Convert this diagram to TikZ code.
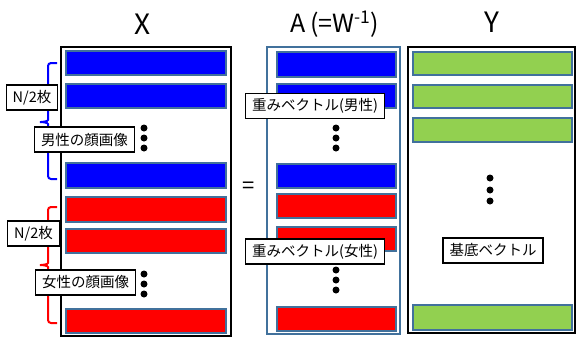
\documentclass[tikz,border=0pt]{standalone}
\usepackage{fontspec}
\setmainfont{Noto Sans CJK JP}
\definecolor{barline}{RGB}{65,113,156}
\definecolor{barblue}{RGB}{0,0,255}
\definecolor{barred}{RGB}{255,0,0}
\definecolor{bargreen}{RGB}{146,208,80}
\begin{document}
\begin{tikzpicture}[x=1pt,y=-1pt,
    bar/.style={draw=barline, line width=2pt},
    lbl/.style={draw, line width=1.2pt, fill=white, minimum height=25pt, inner xsep=6.5pt, inner ysep=0pt, font=\fontsize{14.5}{16}\selectfont},
    title/.style={font=\fontsize{28}{30}\selectfont},
    vdot/.style={fill, circle, minimum size=7pt, inner sep=0pt},
    curly/.style={line width=2pt, rounded corners=3pt}]
    \useasboundingbox (0,0) rectangle (576,338);

    % titles
    \node[title] (tX) at (143,24) {X};
    \node[font=\fontsize{25}{27}\selectfont] (tA) at (335,24) {A\,(=W\textsuperscript{-1})};
    \node[title] (tY) at (492,22) {Y};
    \node[font=\fontsize{22}{24}\selectfont] (eq) at (248.5,188) {=};

    % X
    \draw[line width=2pt] (61,47) rectangle (231,336);
    \draw[bar, fill=barblue] (66,51) rectangle (226,75);
    \draw[bar, fill=barblue] (66,84) rectangle (226,108);
    \draw[bar, fill=barblue] (66,163) rectangle (226,188);
    \draw[bar, fill=barred] (66,197) rectangle (226,222);
    \draw[bar, fill=barred] (66,229) rectangle (226,253);
    \draw[bar, fill=barred] (66,309) rectangle (226,333);
    \foreach \y in {128,138,148} \node[vdot] (xm\y) at (144,\y) {};
    \foreach \y in {274,284,294} \node[vdot] (xf\y) at (144,\y) {};

    % braces
    \draw[curly, blue] (57,63) -- (48,63) -- (48,117) to[out=-90,in=0] (38,122) to[out=0,in=90] (48,127) -- (48,179) -- (57,179);
    \draw[curly, red] (57,207) -- (48,207) -- (48,260) to[out=-90,in=0] (38,265) to[out=0,in=90] (48,270) -- (48,323) -- (57,323);
    \node[lbl] (nm) at (32,97.5) {N/2枚};
    \node[lbl] (nf) at (33.5,233.5) {N/2枚};
    \node[lbl] (male) at (84.5,139.5) {男性の顔画像};
    \node[lbl] (female) at (85.5,282.5) {女性の顔画像};

    % A
    \draw[barline, line width=2pt] (267,47) rectangle (400,334);
    \draw[bar, fill=barblue] (277,52) rectangle (396,77);
    \draw[bar, fill=barblue] (277,84) rectangle (396,108);
    \draw[bar, fill=barblue] (277,164) rectangle (396,188);
    \draw[bar, fill=barred] (277,194) rectangle (396,218);
    \draw[bar, fill=barred] (277,227) rectangle (396,251);
    \draw[bar, fill=barred] (277,307) rectangle (396,331);
    \foreach \y in {128,138,148} \node[vdot] (am\y) at (336,\y) {};
    \foreach \y in {270,280,290} \node[vdot] (af\y) at (336,\y) {};
    \node[lbl] (wm) at (315,106) {重みベクトル(男性)};
    \node[lbl] (wf) at (315,251.5) {重みベクトル(女性)};

    % Y
    \draw[line width=2.5pt] (408,47) rectangle (575,333);
    \draw[bar, fill=bargreen] (413,52) rectangle (572,75);
    \draw[bar, fill=bargreen] (413,85) rectangle (572,108);
    \draw[bar, fill=bargreen] (413,118) rectangle (572,142);
    \draw[bar, fill=bargreen] (413,305) rectangle (572,330);
    \foreach \y in {178,190,201} \node[vdot] (yd\y) at (490,\y) {};
    \node[lbl] (basis) at (493,250.5) {基底ベクトル};
\end{tikzpicture}
\end{document}
